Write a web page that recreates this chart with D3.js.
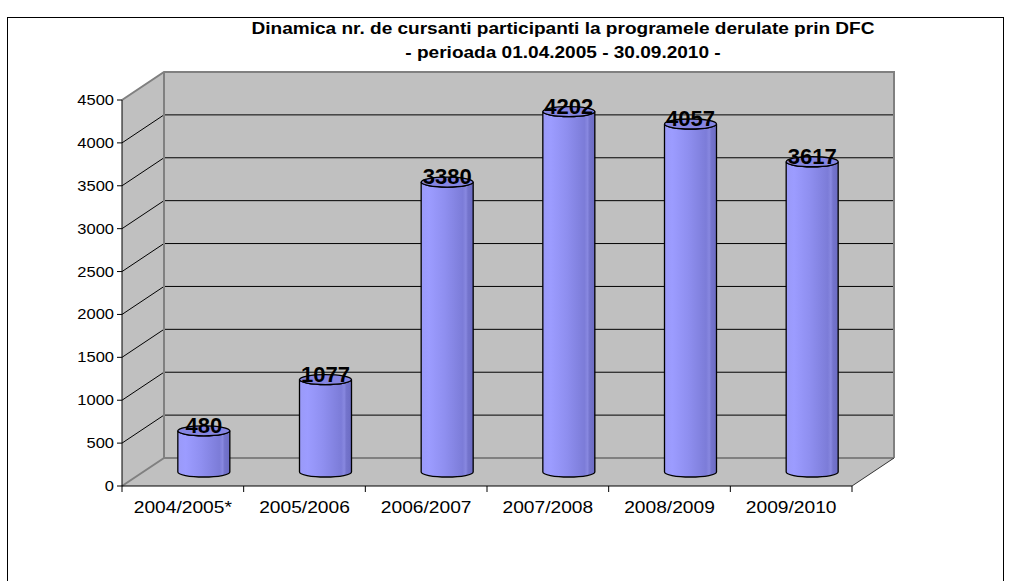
<!DOCTYPE html>
<html>
<head>
<meta charset="utf-8">
<script src="https://cdn.jsdelivr.net/npm/d3@7"></script>
<style>
  body { margin: 0; background: #fff; }
  svg text { font-family: "Liberation Sans", Arial, sans-serif; }
</style>
</head>
<body>
<div class="chart"></div>
<script>
const categories = ["2004/2005*", "2005/2006", "2006/2007", "2007/2008", "2008/2009", "2009/2010"];
const values = [480, 1077, 3380, 4202, 4057, 3617];
const yTicks = [0, 500, 1000, 1500, 2000, 2500, 3000, 3500, 4000, 4500];
const titleLines = ["Dinamica nr. de cursanti participanti la programele derulate prin DFC",
                    "- perioada 01.04.2005 - 30.09.2010 -"];

const W = 1013, H = 581;
const plotL = 122, plotR = 852, plotB = 486, plotT = 100;
const dx = 42, dy = -28;   // depth of the 3d box
const cylW = 52, ry = 5;

const svg = d3.select(".chart").append("svg")
    .attr("width", W).attr("height", H);

// outer border
svg.append("rect")
    .attr("x", 7.5).attr("y", 17.5).attr("width", 996).attr("height", 600)
    .attr("fill", "#fff").attr("stroke", "#000").attr("stroke-width", 1);

const y = d3.scaleLinear().domain([0, 4500]).range([plotB, plotT]);
const x = d3.scaleBand().domain(categories).range([plotL, plotR]);

const wall = "#c0c0c0", edge = "#808080";

// side wall
svg.append("polygon")
    .attr("points", [[plotL, y(4500)], [plotL + dx, y(4500) + dy], [plotL + dx, plotB + dy], [plotL, plotB]].join(" "))
    .attr("fill", wall);
// back wall
svg.append("rect")
    .attr("x", plotL + dx).attr("y", y(4500) + dy)
    .attr("width", plotR - plotL).attr("height", plotB - y(4500))
    .attr("fill", wall);
// floor
svg.append("polygon")
    .attr("points", [[plotL, plotB], [plotR, plotB], [plotR + dx, plotB + dy], [plotL + dx, plotB + dy]].join(" "))
    .attr("fill", wall);

// gridlines
const inner = yTicks.filter(t => t > 0 && t < 4500);
svg.selectAll(".grid").data(inner).join("path")
    .attr("class", "grid")
    .attr("d", t => `M${plotL},${y(t)}L${plotL + dx},${y(t) + dy}L${plotR + dx},${y(t) + dy}`)
    .attr("fill", "none").attr("stroke", "#000").attr("stroke-width", 1);

// gray edges of the box
const edges = [
  `M${plotL},${y(4500)}L${plotL + dx},${y(4500) + dy}L${plotR + dx},${y(4500) + dy}L${plotR + dx},${plotB + dy}`,
  `M${plotL + dx},${y(4500) + dy}L${plotL + dx},${plotB + dy}L${plotR + dx},${plotB + dy}`,
  `M${plotL},${plotB}L${plotL + dx},${plotB + dy}`
];
svg.selectAll(".edge").data(edges).join("path")
    .attr("class", "edge")
    .attr("d", d => d)
    .attr("fill", "none").attr("stroke", edge).attr("stroke-width", 2);
svg.append("path")
    .attr("d", `M${plotR},${plotB}L${plotR + dx},${plotB + dy}`)
    .attr("stroke", "#333").attr("stroke-width", 1);

// gradient for the cylinders
const defs = svg.append("defs");
const grad = defs.append("linearGradient").attr("id", "cyl").attr("x1", 0).attr("x2", 1).attr("y1", 0).attr("y2", 0);
[[0, "#9a9af8"], [0.15, "#9c9cff"], [0.45, "#8f8ff0"], [0.8, "#7c7cd8"], [0.86, "#8888e0"], [0.9, "#7474cc"], [1, "#6c6cc4"]]
  .forEach(([o, c]) => grad.append("stop").attr("offset", o).attr("stop-color", c));

// cylinders
const bars = svg.selectAll(".bar").data(values).join("g").attr("class", "bar");
const cx = (d, i) => x(categories[i]) + x.bandwidth() / 2 + dx / 2;
bars.append("path")
    .attr("d", (d, i) => {
      const c = cx(d, i), x0 = c - cylW / 2, x1 = c + cylW / 2;
      const yb = y(0) + dy / 2, yt = y(d) + dy / 2;
      return `M${x0},${yt}L${x0},${yb}A${cylW / 2},${ry} 0 0 0 ${x1},${yb}L${x1},${yt}A${cylW / 2},${ry} 0 0 1 ${x0},${yt}Z`;
    })
    .attr("fill", "url(#cyl)").attr("stroke", "#000").attr("stroke-width", 1.3);
bars.append("ellipse")
    .attr("cx", cx)
    .attr("cy", d => y(d) + dy / 2)
    .attr("rx", cylW / 2).attr("ry", ry)
    .attr("fill", "#8585e2").attr("stroke", "#000").attr("stroke-width", 1.3);

// y axis
svg.append("line")
    .attr("x1", plotL).attr("x2", plotL).attr("y1", y(4500)).attr("y2", plotB)
    .attr("stroke", "#000");
svg.selectAll(".ytick").data(yTicks).join("line")
    .attr("class", "ytick")
    .attr("x1", plotL - 5).attr("x2", plotL).attr("y1", d => y(d)).attr("y2", d => y(d))
    .attr("stroke", "#000");
svg.selectAll(".ylab").data(yTicks).join("text")
    .attr("class", "ylab")
    .attr("transform", d => `translate(${plotL - 8},${y(d) + 5}) scale(1.18,1)`)
    .attr("text-anchor", "end").attr("font-size", 14)
    .text(d => d);

// x axis
svg.append("line")
    .attr("x1", plotL).attr("x2", plotR).attr("y1", plotB).attr("y2", plotB)
    .attr("stroke", "#000");
svg.selectAll(".xtick").data(d3.range(categories.length + 1)).join("line")
    .attr("class", "xtick")
    .attr("x1", i => plotL + i * x.step()).attr("x2", i => plotL + i * x.step())
    .attr("y1", plotB).attr("y2", plotB + 6)
    .attr("stroke", "#000");
svg.selectAll(".xlab").data(categories).join("text")
    .attr("class", "xlab")
    .attr("transform", d => `translate(${x(d) + x.bandwidth() / 2},${plotB + 27}) scale(1.2,1)`)
    .attr("text-anchor", "middle").attr("font-size", 16)
    .text(d => d);

// data labels
bars.append("text")
    .attr("x", cx).attr("y", d => y(d) + dy / 2 + 2)
    .attr("text-anchor", "middle").attr("font-size", 22).attr("font-weight", "bold")
    .text(d => d);

// title
svg.selectAll(".title").data(titleLines).join("text")
    .attr("class", "title")
    .attr("transform", (d, i) => `translate(563,${34 + i * 23.5}) scale(1.19,1)`)
    .attr("text-anchor", "middle").attr("font-size", 16).attr("font-weight", "bold")
    .text(d => d);
</script>
</body>
</html>
